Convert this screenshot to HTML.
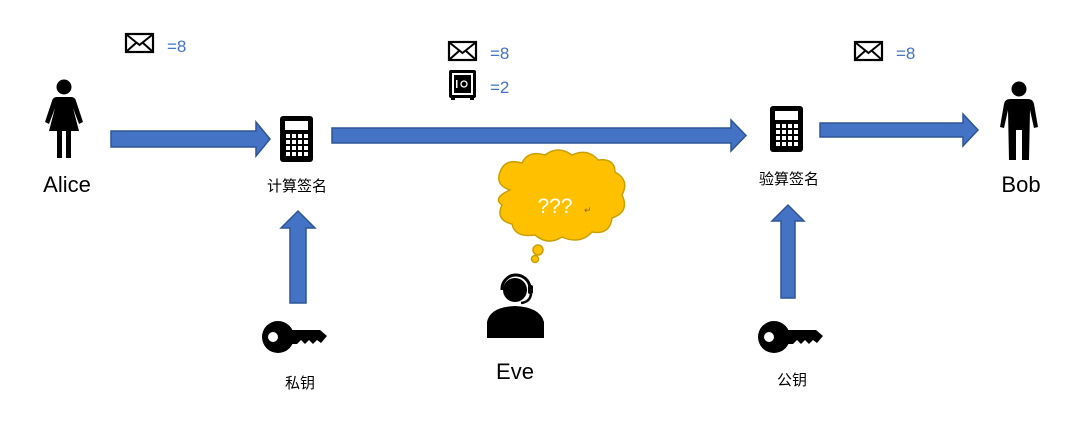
<!DOCTYPE html>
<html><head><meta charset="utf-8"><style>
html,body{margin:0;padding:0;background:#fff;}
svg{display:block;}
text{font-family:"Liberation Sans","Noto Sans CJK SC",sans-serif;}
</style></head><body>
<svg width="1080" height="432" viewBox="0 0 1080 432" xmlns="http://www.w3.org/2000/svg">
<rect width="1080" height="432" fill="#fff"/>
<defs>
<g id="env"><rect x="1" y="1" width="27" height="18" fill="#fff" stroke="#000" stroke-width="2.2"/><path d="M2 2 L14.5 12 L27 2 M2 18 L11 10 M27 18 L18 10" fill="none" stroke="#000" stroke-width="2"/></g>
<g id="calc"><rect x="0" y="0" width="33" height="46" rx="3" fill="#000"/><rect x="5" y="5" width="23" height="9" fill="#fff"/>
<g fill="#fff"><rect x="6" y="18" width="4" height="4"/><rect x="12" y="18" width="4" height="4"/><rect x="18" y="18" width="4" height="4"/><rect x="24" y="18" width="4" height="4"/>
<rect x="6" y="24" width="4" height="4"/><rect x="12" y="24" width="4" height="4"/><rect x="18" y="24" width="4" height="4"/><rect x="24" y="24" width="4" height="4"/>
<rect x="6" y="30" width="4" height="4"/><rect x="12" y="30" width="4" height="4"/><rect x="18" y="30" width="4" height="4"/><rect x="24" y="30" width="4" height="4"/>
<rect x="6" y="36" width="4" height="4"/><rect x="12" y="36" width="4" height="4"/><rect x="18" y="36" width="4" height="4"/><rect x="24" y="36" width="4" height="4"/></g></g>
<g id="key"><circle cx="16" cy="16" r="16" fill="#000"/><circle cx="11" cy="16" r="5" fill="#fff"/><path d="M26 9 L58 9 L65 15 L59 22 L55 19 L51 23 L47 19 L43 23 L39 19 L35 23 L26 23 Z" fill="#000"/></g>
</defs>

<!-- arrows -->
<g fill="#4472c4" stroke="#2f5597" stroke-width="1.5">
<path d="M111 131 L256 131 L256 122 L270 139 L256 156 L256 147 L111 147 Z"/>
<path d="M332 128 L731 128 L731 120 L746 135.5 L731 151 L731 143 L332 143 Z"/>
<path d="M820 123 L963 123 L963 114 L978 130 L963 146 L963 137 L820 137 Z"/>
<path d="M290 303 L290 228 L281 228 L298 211 L315 228 L306 228 L306 303 Z"/>
<path d="M781 298 L781 221 L772 221 L788 205 L804 221 L795 221 L795 298 Z"/>
</g>

<!-- envelopes & labels -->
<use href="#env" x="125" y="33"/>
<text x="167" y="52" font-size="17" fill="#4472c4">=8</text>
<use href="#env" x="448" y="41"/>
<text x="490" y="59" font-size="17" fill="#4472c4">=8</text>
<use href="#env" x="854" y="41"/>
<text x="896" y="59" font-size="17" fill="#4472c4">=8</text>
<!-- safe -->
<rect x="449" y="70" width="27" height="28" rx="2" fill="#000"/>
<rect x="452" y="73" width="21" height="22" fill="#fff"/>
<rect x="454" y="75" width="17" height="18" fill="#000"/>
<rect x="456" y="80" width="1.5" height="8" fill="#fff"/>
<circle cx="464" cy="84" r="3" fill="none" stroke="#fff" stroke-width="1.3"/>
<rect x="451" y="97" width="4" height="3" fill="#000"/><rect x="470" y="97" width="4" height="3" fill="#000"/>
<text x="490" y="93" font-size="17" fill="#4472c4">=2</text>

<!-- Alice -->
<g fill="#000">
<circle cx="64" cy="87" r="7.5"/>
<path d="M57 97 L71 97 Q75 97 76 101 L83 122 L79 124 L73 108 L79 131 L71 131 L71 158 L66 158 L66 131 L62 131 L62 158 L57 158 L57 131 L49 131 L55 108 L49 124 L45 122 L52 101 Q53 97 57 97 Z"/>
</g>
<text x="67" y="192" font-size="22" text-anchor="middle" fill="#000">Alice</text>

<!-- Bob -->
<g fill="#000">
<circle cx="1019" cy="89" r="7.5"/>
<path d="M1010 99 L1028 99 Q1033 99 1034 104 L1038 127 L1034 128 L1030 110 L1029 160 L1022 160 L1022 130 L1016 130 L1016 160 L1009 160 L1008 110 L1004 128 L1000 127 L1004 104 Q1005 99 1010 99 Z"/>
</g>
<text x="1021" y="192" font-size="22" text-anchor="middle" fill="#000">Bob</text>

<!-- calculators -->
<use href="#calc" x="280" y="116"/>
<text x="297" y="191" font-size="15" text-anchor="middle" fill="#000">计算签名</text>
<use href="#calc" x="770" y="106"/>
<text x="789" y="184" font-size="15" text-anchor="middle" fill="#000">验算签名</text>

<!-- keys -->
<use href="#key" x="262" y="321"/>
<text x="300" y="388" font-size="15" text-anchor="middle" fill="#000">私钥</text>
<use href="#key" x="758" y="321"/>
<text x="792" y="385" font-size="15" text-anchor="middle" fill="#000">公钥</text>

<!-- cloud -->
<g fill="#ffc000" stroke="#c9a000" stroke-width="1.5">
<path d="M510 190 Q495 185 500 172 Q505 158 522 163 Q528 150 545 155 Q558 145 572 155 Q588 148 598 160 Q615 158 615 172 Q630 180 622 195 Q630 212 612 218 Q610 235 592 232 Q580 245 562 237 Q548 246 535 235 Q515 238 512 224 Q495 220 502 205 Q492 198 510 190 Z"/>
<circle cx="538" cy="250" r="5"/>
<circle cx="535" cy="259" r="3.5"/>
</g>
<text x="555" y="213" font-size="21" fill="#fff" text-anchor="middle">???</text>
<text x="584" y="213" font-size="9" fill="#8a6a00">↵</text>

<!-- Eve -->
<g>
<circle cx="515" cy="290" r="12" fill="#000"/>
<path d="M502 290 A14 14 0 0 1 530 288" fill="none" stroke="#000" stroke-width="3"/>
<rect x="528" y="285" width="5" height="9" rx="2" fill="#000"/>
<path d="M531 294 Q530 302 521 303" fill="none" stroke="#000" stroke-width="2.5"/>
<path d="M487 338 L487 322 Q490 307 515 306 Q540 307 544 322 L544 338 Z" fill="#000"/>
</g>
<text x="515" y="379" font-size="22" text-anchor="middle" fill="#000">Eve</text>
</svg>
</body></html>
